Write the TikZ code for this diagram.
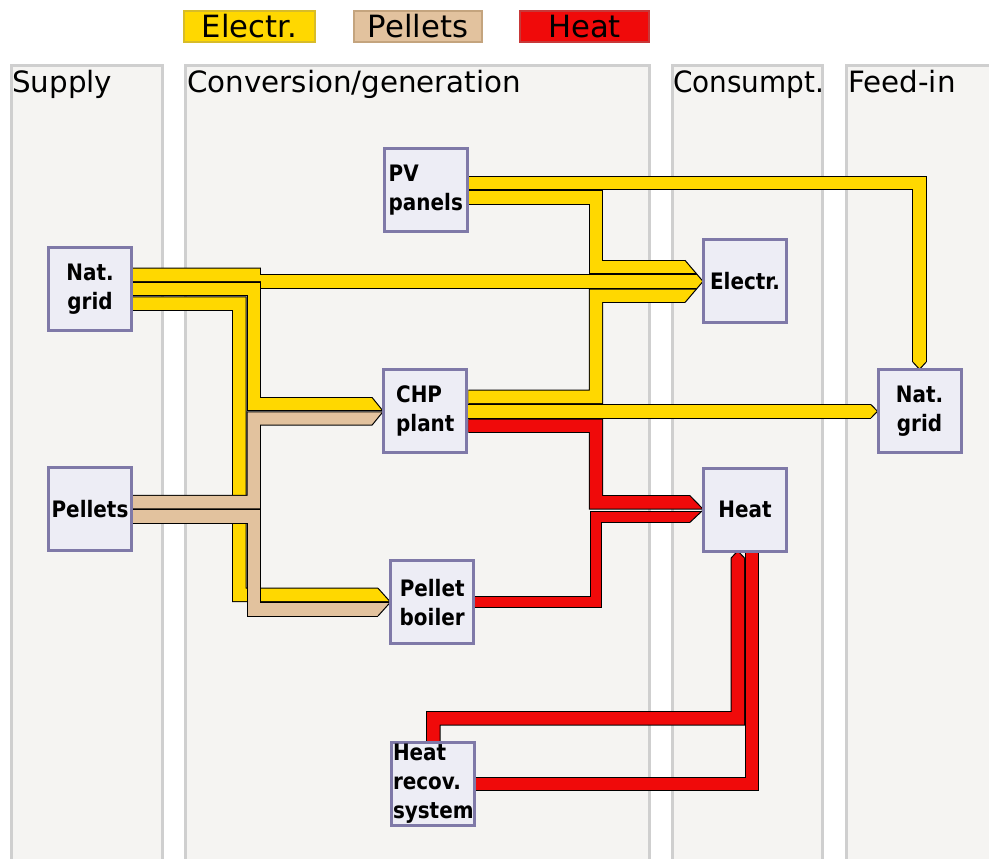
\documentclass[tikz,border=0pt]{standalone}
\usepackage{fontspec}
\setmainfont{DejaVu Sans}
\newfontfamily\unitfont[FakeStretch=0.88]{DejaVu Sans}
\usepackage{graphicx}
\usetikzlibrary{calc}
\definecolor{elecc}{HTML}{FFD800}
\definecolor{elecb}{HTML}{D8BC28}
\definecolor{pelc}{HTML}{E2C29E}
\definecolor{pelb}{HTML}{C4A47E}
\definecolor{heatc}{HTML}{F00A0A}
\definecolor{heatb}{HTML}{C83838}
\definecolor{panelf}{HTML}{F5F4F2}
\definecolor{panelb}{HTML}{CFCFCF}
\definecolor{boxf}{HTML}{EDEDF5}
\definecolor{boxb}{HTML}{7F79A8}
\pgfdeclarelayer{bg}
\pgfdeclarelayer{flow}
\pgfsetlayers{bg,flow,main}
\tikzset{
  band/.style={draw=black, line width=0.75pt, double distance=9.3pt, line join=miter},
  eband/.style={band, double=elecc},
  pband/.style={band, double=pelc},
  hband/.style={band, double=heatc},
  thinband/.style={draw=black, line width=0.75pt, double distance=7.5pt, double=heatc, line join=miter},
  bandline/.style={draw=black, line width=0.75pt, line join=miter},
  unit/.style={draw=boxb, fill=boxf, line width=2.25pt, minimum width=62.25pt, minimum height=62.25pt,
    inner sep=0pt, font=\unitfont\fontsize{17}{21.75}\selectfont\bfseries, align=center},
  panel/.style={draw=panelb, fill=panelf, line width=2.25pt},
  legendbox/.style={line width=1.5pt, minimum height=23.25pt, inner sep=0pt, font=\fontsize{23}{27}\selectfont},
  header/.style={anchor=base west, inner sep=0pt, font=\fontsize{22}{26}\selectfont},
}
% right-pointing chevron: start x, tip x, tip y, half height up, half height down
\newcommand\chevR[5]{%
  \fill[panelf] (#1,#3-#4-2) -- (#2+2,#3-#4-2) -- (#2+2,#3) -- (#2,#3) -- (#1,#3-#4) -- cycle;
  \fill[panelf] (#1,#3+#5+2) -- (#2+2,#3+#5+2) -- (#2+2,#3) -- (#2,#3) -- (#1,#3+#5) -- cycle;
  \draw[bandline] (#1,#3-#4) -- (#2,#3) -- (#1,#3+#5);}
% down-pointing chevron: start y, tip x, tip y, half width
\newcommand\chevD[4]{%
  \fill[panelf] (#2-#4-2,#1) -- (#2-#4-2,#3+2) -- (#2,#3+2) -- (#2,#3) -- (#2-#4,#1) -- cycle;
  \fill[panelf] (#2+#4+2,#1) -- (#2+#4+2,#3+2) -- (#2,#3+2) -- (#2,#3) -- (#2+#4,#1) -- cycle;
  \draw[bandline] (#2-#4,#1) -- (#2,#3) -- (#2+#4,#1);}
% up-pointing chevron: start y, tip x, tip y, half width
\newcommand\chevU[4]{%
  \fill[panelf] (#2-#4-2,#1) -- (#2-#4-2,#3-2) -- (#2,#3-2) -- (#2,#3) -- (#2-#4,#1) -- cycle;
  \fill[panelf] (#2+#4+1.4,#1) -- (#2+#4+1.4,#3-2) -- (#2,#3-2) -- (#2,#3) -- (#2+#4,#1) -- cycle;
  \draw[bandline] (#2-#4,#1) -- (#2,#3) -- (#2+#4,#1);}
\begin{document}
\begin{tikzpicture}[x=0.75pt,y=-0.75pt]
\useasboundingbox (0,0) rectangle (989,859);
\begin{pgfonlayer}{bg}
\fill[white] (0,0) rectangle (989,859);
\draw[panel] (11.5,65.5) rectangle (162.5,880);
\draw[panel] (185.5,65.5) rectangle (649.5,880);
\draw[panel] (672,65.5) rectangle (822.5,880);
\draw[panel] (846.5,65.5) rectangle (1000,880);
\end{pgfonlayer}

% headers
\node[header] (hsup) at (12,93) {Supply};
\node[header] (hconv) at (187,93) {Conversion/generation};
\node[header] (hcons) at (673,93) {\scalebox{0.95}[1]{Consumpt.}};
\node[header] (hfeed) at (848,93) {Feed-in};

% legend
\node[legendbox, fill=elecc, draw=elecb, minimum width=98.25pt] (lgE) at (249.5,26.5) {Electr.};
\node[legendbox, fill=pelc, draw=pelb, minimum width=96pt] (lgP) at (418,26.5) {Pellets};
\node[legendbox, fill=heatc, draw=heatb, minimum width=96.75pt] (lgH) at (584.5,26.5) {Heat};

% units
\node[unit, align=left] (pv) at (425.8,190.5) {PV\\panels};
\node[unit] (grid1) at (90,289.3) {Nat.\\grid};
\node[unit] (elec) at (745,281.4) {Electr.};
\node[unit, align=left] (chp) at (425.3,411.3) {CHP\\plant};
\node[unit] (grid2) at (919.5,411.3) {Nat.\\grid};
\node[unit] (pel) at (90,509.3) {Pellets};
\node[unit] (heat) at (745,509.6) {Heat};
\node[unit] (boiler) at (432.2,602.1) {Pellet\\boiler};
\node[unit, align=left] (recov) at (433.3,783.9) {Heat\\recov.\\system};

\begin{pgfonlayer}{flow}
% Nat. grid -> Electr.
\draw[eband] ($(grid1.east)+(0,-14.4)$) -- (260.9,274.9);
\draw[eband] (260.9,281.4) -- ($(elec.west)+(1,0)$);
\draw[bandline] (260.5,267.7) -- (260.5,275.4);
% Nat. grid -> CHP
\draw[eband] (grid1.east) -| (253.7,404.1) -- ($(chp.west)+(1,-7.2)$);
% Nat. grid -> Pellet boiler
\draw[eband] ($(grid1.east)+(0,14.4)$) -| (239.3,594.9) -- ($(boiler.west)+(1.3,-7.2)$);
% PV -> Nat. grid (feed-in)
\draw[eband] ($(pv.east)+(0,-7.2)$) -| ($(grid2.north)+(0,1)$);
% PV -> Electr.
\draw[eband] ($(pv.east)+(0,7.2)$) -| (596,267) -- ($(elec.west)+(1,-14.4)$);
% CHP -> Electr.
\draw[eband] ($(chp.east)+(0,-14.4)$) -| (596,295.8) -- ($(elec.west)+(1,14.4)$);
% CHP -> Nat. grid (feed-in)
\draw[eband] (chp.east) -- ($(grid2.west)+(1,0)$);
% Pellets -> CHP
\draw[pband] ($(pel.east)+(0,-7.2)$) -| (253.7,418.5) -- ($(chp.west)+(1,7.2)$);
% Pellets -> Pellet boiler
\draw[pband] ($(pel.east)+(0,7.2)$) -| (253.7,609.3) -- ($(boiler.west)+(1.3,7.2)$);
% CHP -> Heat
\draw[hband] ($(chp.east)+(0,14.4)$) -| (596,502.4) -- ($(heat.west)+(1,-7.2)$);
% Pellet boiler -> Heat
\draw[thinband] (boiler.east) -| (596,516.8) -- ($(heat.west)+(1,7.2)$);
% Heat recovery -> Heat
\draw[hband] (recov.north) |- (737.8,718.3) -- ($(heat.south)+(-7.2,-2)$);
% arrow heads
\chevR{685}{703}{281.4}{21.1}{21.1}
\chevR{372}{383.3}{411.3}{13.9}{13.9}
\chevR{378}{390.5}{602.1}{13.9}{13.9}
\chevR{690}{703.5}{509.6}{13.9}{12.7}
\chevR{871}{877.5}{411.3}{6.7}{6.7}
\chevD{362}{919.5}{369.3}{6.7}
\chevU{558}{737.8}{550.9}{6.7}
% Heat -> Heat recovery
\draw[hband] ($(heat.south)+(7.2,0)$) |- (recov.east);
\end{pgfonlayer}
\end{tikzpicture}
\end{document}
